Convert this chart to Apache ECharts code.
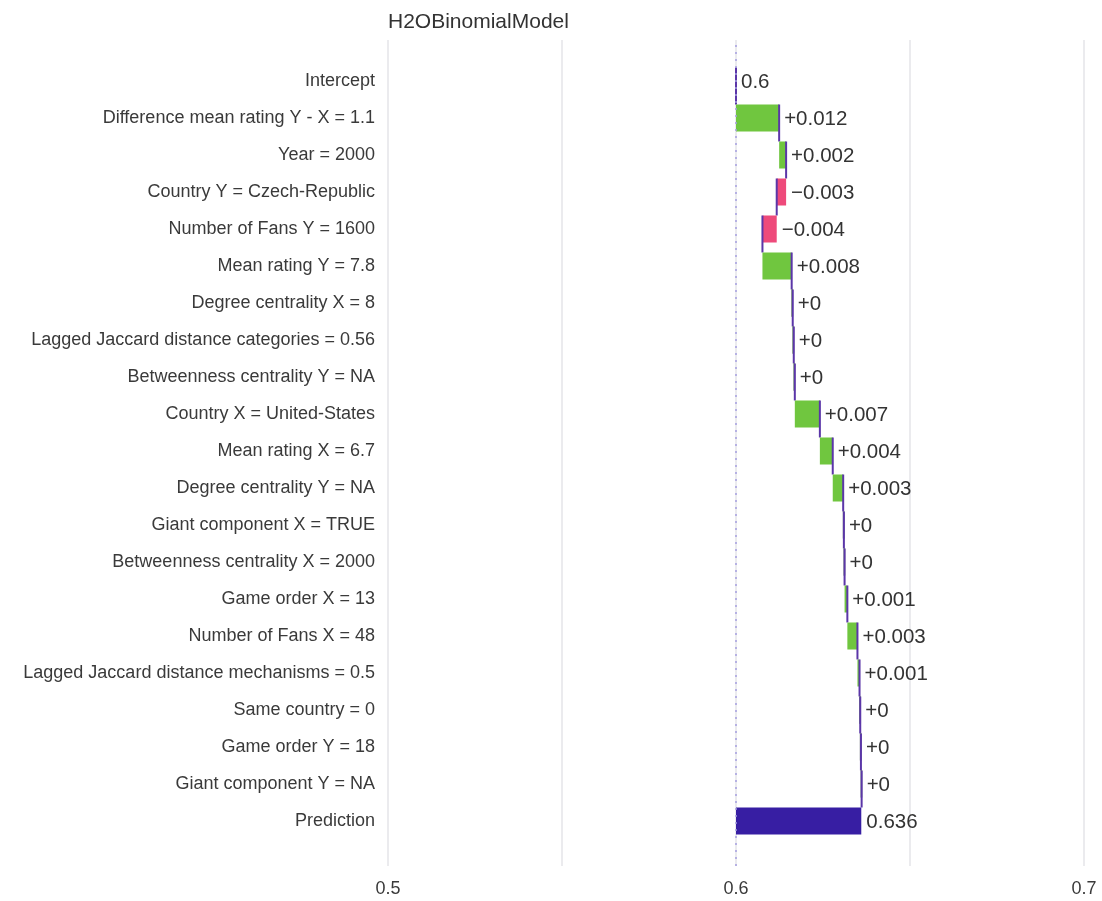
<!DOCTYPE html>
<html>
<head>
<meta charset="utf-8">
<script src="https://cdn.jsdelivr.net/npm/echarts@6/dist/echarts.min.js"></script>
<style>
  html, body { margin: 0; padding: 0; background: #fff; }
  #chart { width: 1102px; height: 901px; }
</style>
</head>
<body>
<div id="chart"></div>
<script>
// break-down rows, top to bottom
const variables = [
  "Intercept",
  "Difference mean rating Y - X = 1.1",
  "Year = 2000",
  "Country Y = Czech-Republic",
  "Number of Fans Y = 1600",
  "Mean rating Y = 7.8",
  "Degree centrality X = 8",
  "Lagged Jaccard distance categories = 0.56",
  "Betweenness centrality Y = NA",
  "Country X = United-States",
  "Mean rating X = 6.7",
  "Degree centrality Y = NA",
  "Giant component X = TRUE",
  "Betweenness centrality X = 2000",
  "Game order X = 13",
  "Number of Fans X = 48",
  "Lagged Jaccard distance mechanisms = 0.5",
  "Same country = 0",
  "Game order Y = 18",
  "Giant component Y = NA",
  "Prediction"
];
const intercept = 0.6;
// contributions (between Intercept and Prediction)
const contributions = [
  0.0124, 0.002, -0.0027, -0.0041, 0.0084, 0.0003, 0.0003, 0.0003,
  0.0072, 0.0037, 0.003, 0.0002, 0.0002, 0.0008, 0.0029, 0.0006,
  0.0002, 0.0002, 0.0002
];
const prediction = 0.636;
const xTicks = [0.5, 0.6, 0.7];

const colPos = '#70c63f';
const colNeg = '#ee4a7b';
const colPred = '#371ea3';
const colLine = '#5b36a8';
const font = 'Liberation Sans, Arial, sans-serif';

// build start/end for each row
const rows = [];
rows.push({ start: intercept, end: intercept, kind: 'int', label: String(intercept) });
let cum = intercept;
contributions.forEach(c => {
  const s = cum;
  cum = cum + c;
  const r = Number(Math.abs(c).toFixed(3));
  rows.push({ start: s, end: cum, kind: c >= 0 ? 'pos' : 'neg', label: (c >= 0 ? '+' : '\u2212') + r });
});
rows.push({ start: intercept, end: prediction, kind: 'pred', label: String(prediction) });

const data = rows.map((r, i) => [r.start, r.end, i]);

const chart = echarts.init(document.getElementById('chart'));
const gridL = 388, gridR = 18;

chart.setOption({
  animation: false,
  title: {
    text: 'H2OBinomialModel', left: 383, top: 7,
    textStyle: { fontSize: 21, fontWeight: 'normal', color: '#333', fontFamily: font }
  },
  grid: [
    { left: gridL, right: gridR, top: 40, height: 826 },
    { left: gridL, right: gridR, top: 62.5, height: 777 }
  ],
  xAxis: [
    {
      gridIndex: 0, type: 'value', min: 0.5, max: 0.7, interval: 0.05,
      axisLine: { show: false }, axisTick: { show: false },
      splitLine: { show: true, lineStyle: { color: '#e4e4e8', width: 1.5 } },
      axisLabel: {
        margin: 14, fontSize: 18, color: '#3a3a3a', fontFamily: font,
        formatter: v => xTicks.some(t => Math.abs(t - v) < 1e-9) ? String(Number(v.toFixed(1))) : ''
      }
    },
    {
      gridIndex: 1, type: 'value', min: 0.5, max: 0.7,
      show: false, splitLine: { show: false }
    }
  ],
  yAxis: [
    { gridIndex: 0, type: 'value', show: false, splitLine: { show: false } },
    {
      gridIndex: 1, type: 'category', inverse: true, data: variables,
      axisLine: { show: false }, axisTick: { show: false }, splitLine: { show: false },
      axisLabel: { margin: 13, fontSize: 18, color: '#3a3a3a', fontFamily: font }
    }
  ],
  series: [
    {
      type: 'line', xAxisIndex: 0, yAxisIndex: 0, data: [], silent: true,
      markLine: {
        symbol: 'none', silent: true, label: { show: false },
        lineStyle: { color: '#a59ee0', type: [2, 5], width: 1.5 },
        data: [{ xAxis: intercept }]
      }
    },
    {
      type: 'custom', xAxisIndex: 1, yAxisIndex: 1, data: data,
      renderItem: function (params, api) {
        const i = api.value(2);
        const r = rows[i];
        const p0 = api.coord([api.value(0), i]);
        const p1 = api.coord([api.value(1), i]);
        const band = api.size([0, 1])[1];
        const h = band * 0.73;
        const top = p0[1] - h / 2;
        const xl = Math.min(p0[0], p1[0]);
        const xr = Math.max(p0[0], p1[0]);
        const children = [];
        const fill = r.kind === 'pos' ? colPos : r.kind === 'neg' ? colNeg : colPred;
        if (r.kind !== 'int') {
          children.push({
            type: 'rect',
            shape: { x: xl, y: top, width: Math.max(xr - xl, 1), height: h },
            style: { fill: fill, stroke: xr - xl < 2 ? '#5e7a58' : null, lineWidth: 0.6 }
          });
        }
        if (r.kind !== 'pred') {
          children.push({
            type: 'line',
            shape: { x1: p1[0], y1: top, x2: p1[0], y2: top + band },
            style: { stroke: colLine, lineWidth: 2 }
          });
        }
        children.push({
          type: 'text',
          x: xr + 5, y: p0[1] + 1,
          style: {
            text: r.label, fill: '#333', fontSize: 20.5, fontFamily: font,
            verticalAlign: 'middle', align: 'left'
          }
        });
        return { type: 'group', children: children };
      }
    }
  ]
});
</script>
</body>
</html>
